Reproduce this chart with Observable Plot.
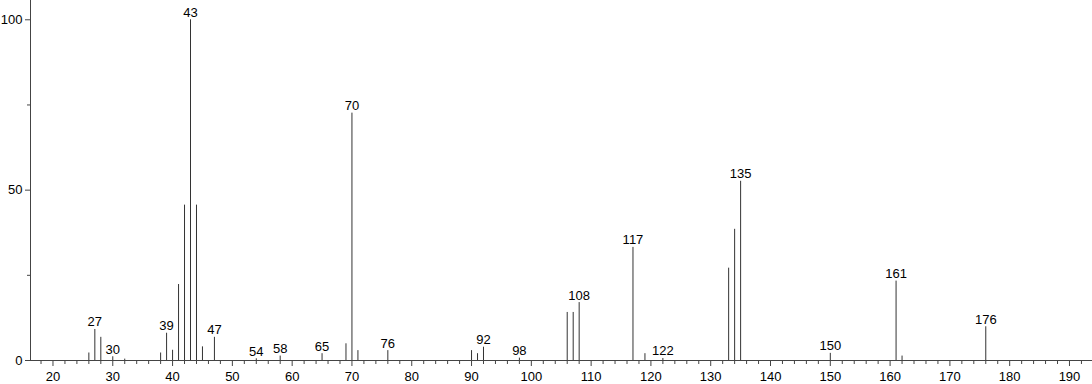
<!DOCTYPE html>
<html>
<head>
<meta charset="utf-8">
<script src="https://cdn.jsdelivr.net/npm/d3@7"></script>
<script src="https://cdn.jsdelivr.net/npm/@observablehq/plot@0.6"></script>
<style>
  html, body { margin: 0; padding: 0; background: #fff; }
  #chart { width: 1092px; height: 384px; }
</style>
</head>
<body>
<div id="chart"></div>
<script>
// m/z values of the stems
const mz = [26, 27, 28, 30, 32, 38, 39, 40, 41, 42, 43, 44, 45, 47, 54, 58, 65, 69, 70, 71, 76,
            90, 91, 92, 98, 106, 107, 108, 117, 119, 122, 133, 134, 135, 150, 161, 162, 176];
// relative intensities (%)
const intensity = [2.2, 9.1, 6.8, 1.1, 0.4, 2.2, 8.0, 3.0, 22.3, 45.6, 100, 45.6, 4.0, 6.8, 0.5, 1.3, 2.0, 4.9, 72.6, 2.9, 2.9,
                   2.9, 2.0, 3.9, 0.7, 14.1, 14.1, 17.0, 33.2, 2.0, 0.6, 27.1, 38.5, 52.6, 2.1, 23.3, 1.3, 9.9];
// peaks that carry a label
const labeledPeaks = [27, 30, 39, 43, 47, 54, 58, 65, 70, 76, 92, 98, 108, 117, 122, 135, 150, 161, 176];
// axis ticks
const xMajorTicks = [20, 30, 40, 50, 60, 70, 80, 90, 100, 110, 120, 130, 140, 150, 160, 170, 180, 190];
const xMinorTicks = d3.range(18, 194, 2).filter(v => v % 10 !== 0);
const yMajorTicks = [0, 50, 100];
const yMinorTicks = [25, 75];

const peaks = mz.map((m, i) => ({mz: m, int: intensity[i]}));
const labels = peaks.filter(d => labeledPeaks.includes(d.mz));

const xDomain = [16.24, 193.85];
const yDomain = [0, 105.66];
const axisColor = "#444";

const chart = Plot.plot({
  width: 1092,
  height: 384,
  marginTop: 0,
  marginRight: 0,
  marginBottom: 24,
  marginLeft: 30,
  style: {fontFamily: "'Liberation Sans', Arial, sans-serif", fontSize: "13px", color: "#000", background: "#fff"},
  x: {domain: xDomain, label: null},
  y: {domain: yDomain, label: null},
  marks: [
    Plot.ruleX(peaks, {x: "mz", y1: 0, y2: "int", stroke: "#333", strokeWidth: 1}),
    Plot.text(labels, {x: "mz", y: "int", text: d => String(d.mz), lineAnchor: "bottom", dy: -3, fontSize: 13, fill: "#000"}),
    Plot.ruleY([0], {stroke: axisColor}),
    Plot.ruleX([xDomain[0]], {stroke: axisColor}),
    Plot.axisX({ticks: xMajorTicks, tickSize: 6, tickPadding: 5, stroke: axisColor, fill: "#000", fontSize: 13, label: null}),
    Plot.axisX({ticks: xMinorTicks, tickSize: 4, tickFormat: () => "", stroke: axisColor, label: null}),
    Plot.axisY({ticks: yMajorTicks, tickSize: 5, tickPadding: 3, stroke: axisColor, fill: "#000", fontSize: 13, label: null}),
    Plot.axisY({ticks: yMinorTicks, tickSize: 3, tickFormat: () => "", stroke: axisColor, label: null})
  ]
});
document.getElementById("chart").appendChild(chart);
</script>
</body>
</html>
